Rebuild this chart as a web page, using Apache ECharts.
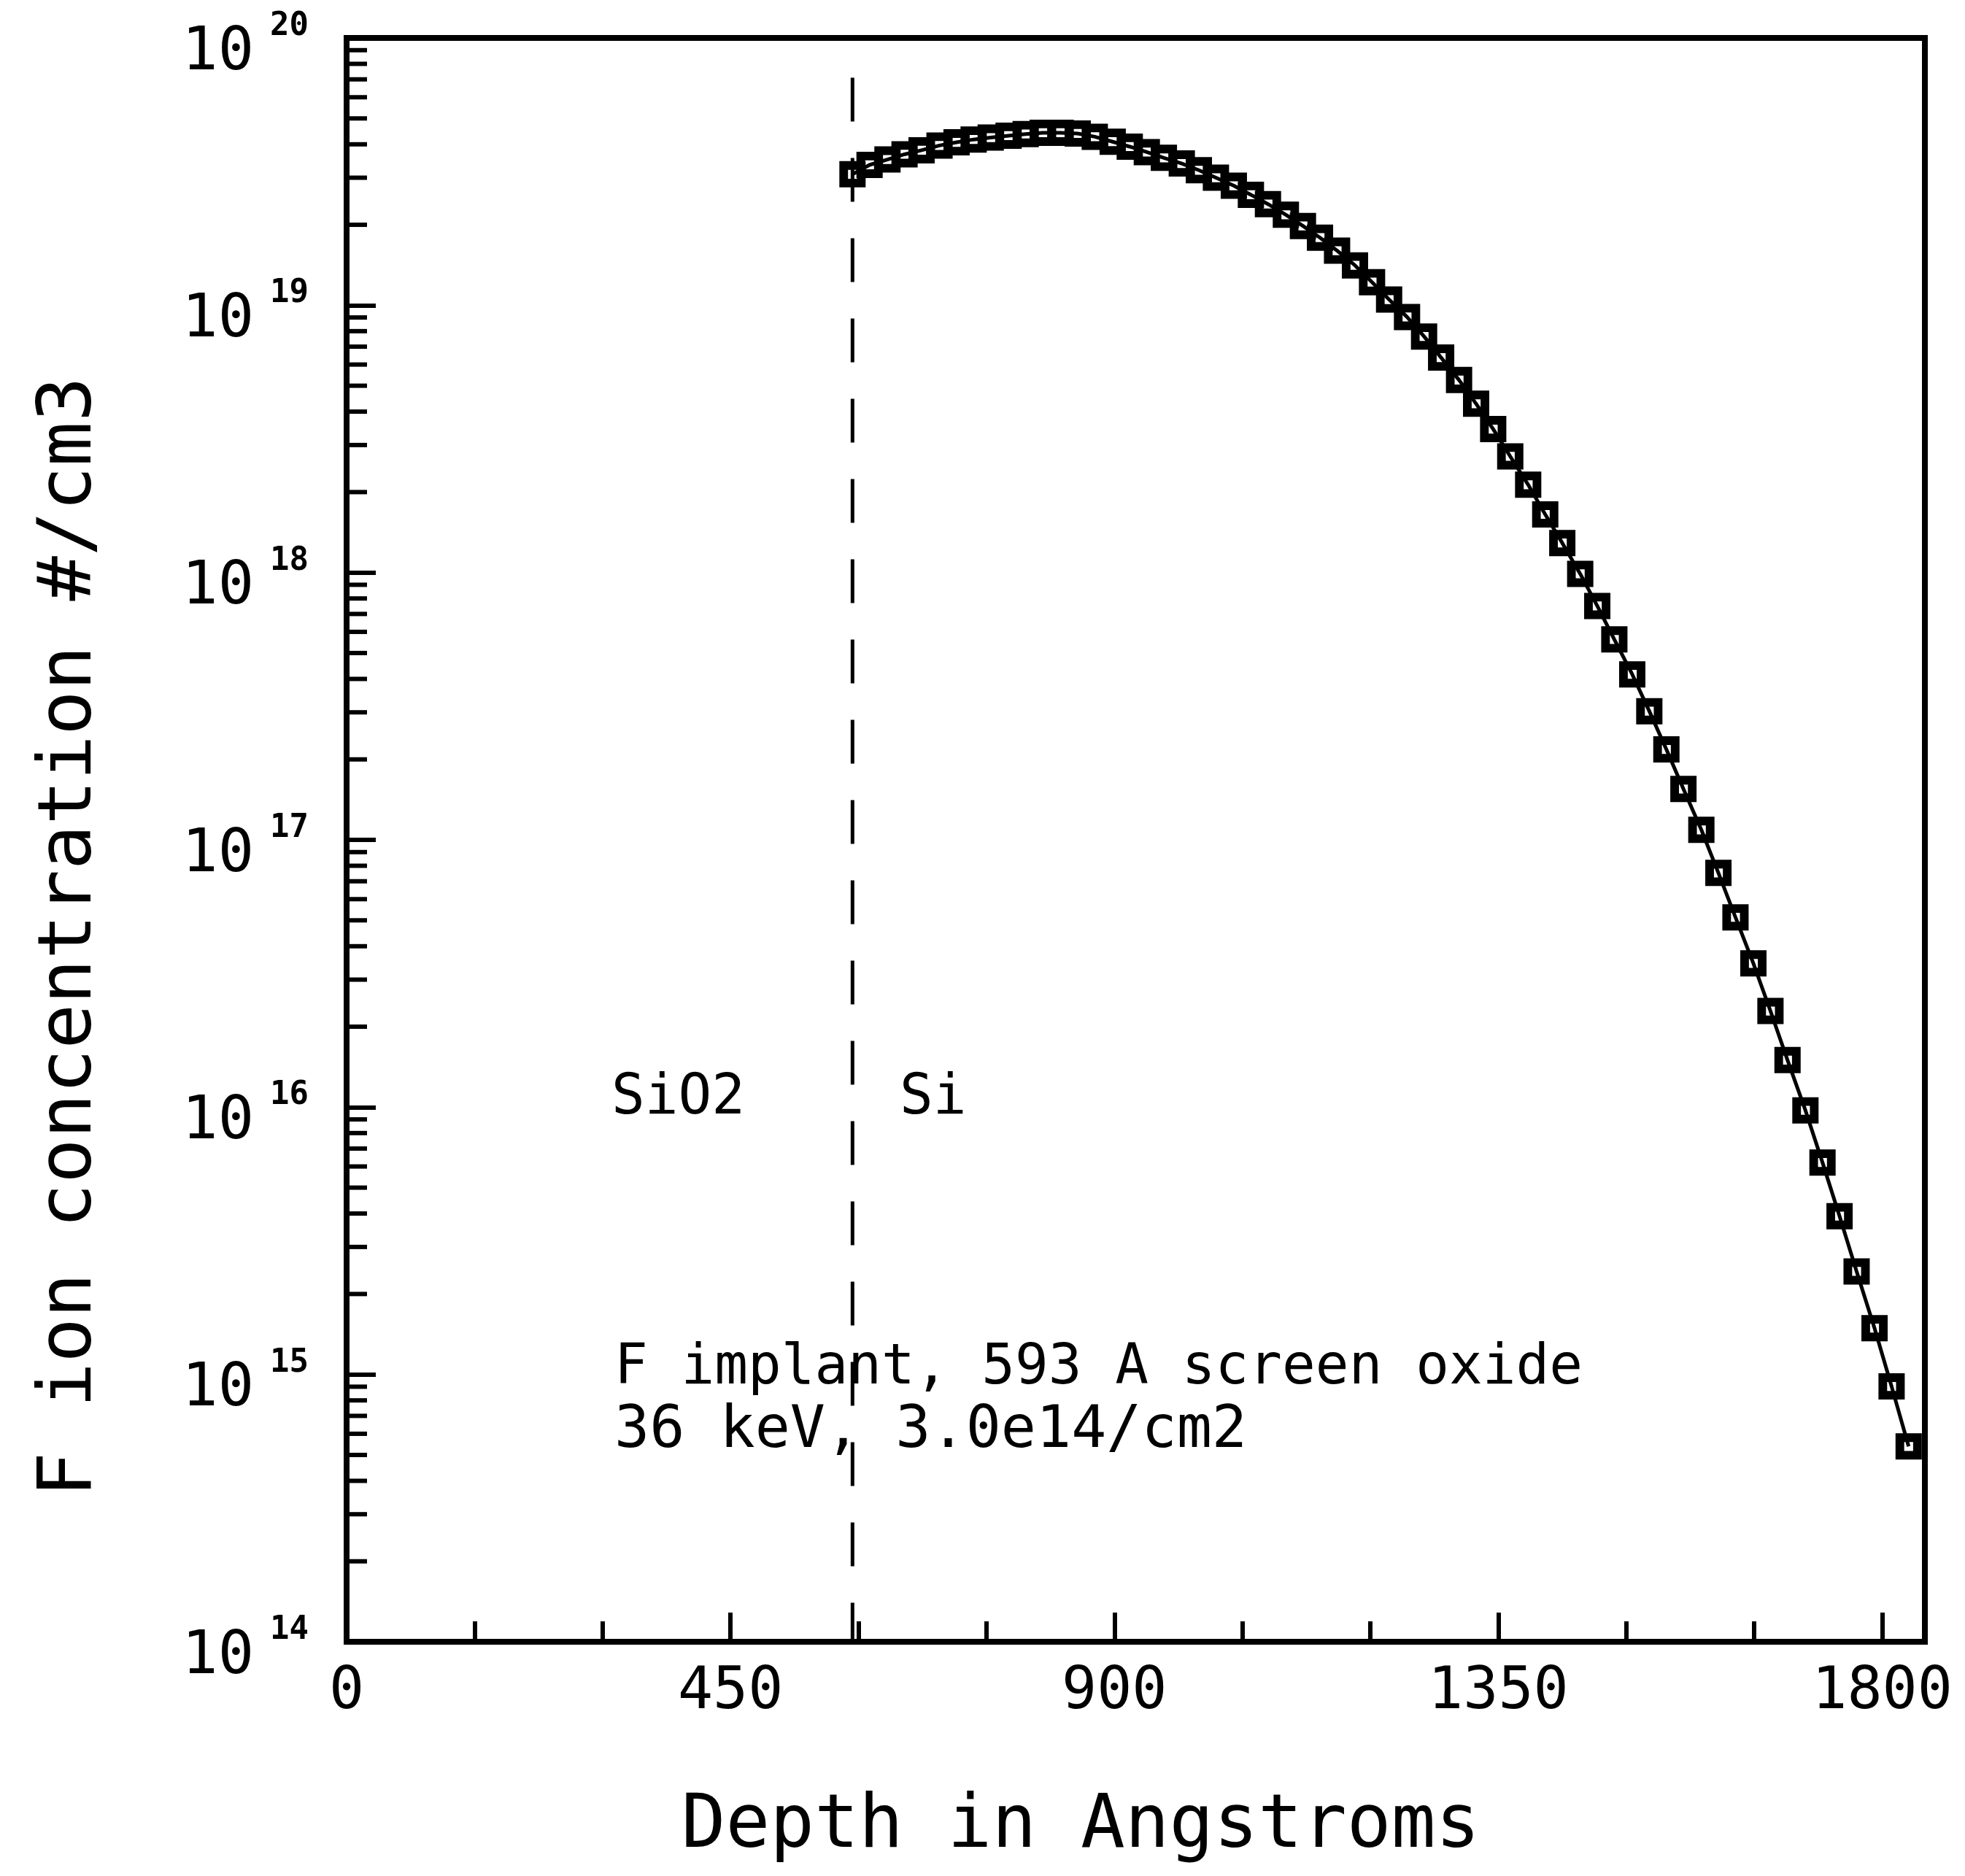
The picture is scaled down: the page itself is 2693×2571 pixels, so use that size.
<!DOCTYPE html>
<html>
<head>
<meta charset="utf-8">
<script src="https://cdn.jsdelivr.net/npm/echarts@6/dist/echarts.min.js"></script>
<style>
  html, body { margin: 0; padding: 0; background: #ffffff; }
  #chart { width: 2693px; height: 2571px; }
</style>
</head>
<body>
<div id="chart"></div>
<script>
// Depth grid of the simulated F profile in silicon (Angstroms)
const depth = [
  593, 613, 634, 654, 674, 695, 715, 735, 755, 776,
  796, 816, 837, 857, 877, 898, 918, 938, 958, 979,
  999, 1019, 1040, 1060, 1080, 1101, 1121, 1141, 1161, 1182,
  1202, 1222, 1243, 1263, 1283, 1304, 1324, 1344, 1364, 1385,
  1405, 1425, 1446, 1466, 1486, 1507, 1527, 1547, 1567, 1588,
  1608, 1628, 1649, 1669, 1689, 1710, 1730, 1750, 1770, 1791,
  1811, 1831
];

// F ion concentration at each depth (#/cm3)
const concentration = [
  3.09e19, 3.35e19, 3.51e19, 3.67e19, 3.80e19, 3.96e19, 4.07e19, 4.17e19, 4.24e19, 4.31e19,
  4.37e19, 4.42e19, 4.42e19, 4.39e19, 4.27e19, 4.09e19, 3.92e19, 3.74e19, 3.56e19, 3.39e19,
  3.20e19, 3.00e19, 2.80e19, 2.59e19, 2.39e19, 2.18e19, 1.98e19, 1.79e19, 1.60e19, 1.41e19,
  1.22e19, 1.05e19, 9.04e18, 7.64e18, 6.37e18, 5.25e18, 4.28e18, 3.44e18, 2.72e18, 2.13e18,
  1.65e18, 1.29e18, 9.89e17, 7.50e17, 5.62e17, 4.16e17, 3.03e17, 2.18e17, 1.55e17, 1.09e17,
  7.52e16, 5.13e16, 3.45e16, 2.29e16, 1.50e16, 9.73e15, 6.21e15, 3.91e15, 2.43e15, 1.49e15,
  9.02e14, 5.38e14
];

// SiO2 / Si interface (screen oxide thickness) and the top of its marker line
const interfaceDepth = 593;
const interfaceLineTop = 7.1e19;

// Axis ranges and tick labels
const xRange = [0, 1850];
const xLabelValues = [0, 450, 900, 1350, 1800];
const yRange = [1e14, 1e20];
const decadeExponents = [14, 15, 16, 17, 18, 19];
const minorMultipliers = [2, 3, 4, 5, 6, 7, 8, 9];

// Annotation texts
const layerLabels = ['SiO2', 'Si'];
const implantNote = ['F implant, 593 A screen oxide', '36 keV, 3.0e14/cm2'];
const xTitle = 'Depth in Angstroms';
const yTitle = 'F ion concentration #/cm3';

const FONT = '"DejaVu Sans Mono", "Liberation Mono", monospace';
const INK = '#000000';

// Square plot marker with a heavy outline and a small open centre
const SQUARE_MARKER = 'path://M0,0H10V10H0Z M3.3,3.3V6.7H6.7V3.3Z';

const profileData = depth.map((d, i) => [d, concentration[i]]);
const minorTickData = [];
decadeExponents.forEach(e => {
  minorMultipliers.forEach(m => minorTickData.push([xRange[0], m * Math.pow(10, e)]));
});

const chart = echarts.init(document.getElementById('chart'), null, { renderer: 'canvas' });

const gridBox = { left: 475, top: 52, width: 2163, height: 2198 };

chart.setOption({
  animation: false,
  backgroundColor: '#ffffff',
  grid: {
    left: gridBox.left, top: gridBox.top, width: gridBox.width, height: gridBox.height,
    show: true, borderColor: INK, borderWidth: 8, backgroundColor: 'transparent'
  },
  xAxis: [
    {
      type: 'value', min: xRange[0], max: xRange[1], interval: 150,
      position: 'bottom',
      axisLine: { show: true, onZero: false, lineStyle: { color: INK, width: 8 } },
      axisTick: { show: true, inside: true, length: 28, lineStyle: { color: INK, width: 6 } },
      splitLine: { show: false },
      axisLabel: {
        show: true, margin: 30,
        color: INK, fontFamily: FONT, fontSize: 80,
        formatter: v => (xLabelValues.indexOf(v) >= 0 ? String(v) : '')
      }
    },
    {
      type: 'value', min: xRange[0], max: xRange[1], interval: 450,
      position: 'bottom',
      axisLine: { show: false, onZero: false },
      axisTick: { show: true, inside: true, length: 40, lineStyle: { color: INK, width: 6 } },
      splitLine: { show: false },
      axisLabel: { show: false }
    }
  ],
  yAxis: {
    type: 'log', logBase: 10, min: yRange[0], max: yRange[1], splitNumber: 6,
    axisLine: { show: true, onZero: false, lineStyle: { color: INK, width: 8 } },
    axisTick: { show: true, inside: true, length: 40, lineStyle: { color: INK, width: 6 } },
    splitLine: { show: false },
    minorTick: { show: false },
    axisLabel: {
      show: true, margin: 52,
      formatter: v => '{b|10}{s|' + Math.round(Math.log10(v)) + '}',
      rich: {
        b: { fontFamily: FONT, fontSize: 82, color: INK, padding: [43, 0, 0, 0] },
        s: { fontFamily: FONT, fontSize: 44, fontWeight: 'bold', color: INK, padding: [0, 0, 31, 22] }
      }
    }
  },
  series: [
    {
      // minor ticks at 2..9 x 10^n on the log concentration axis
      type: 'custom',
      xAxisIndex: 0,
      data: minorTickData,
      clip: false,
      silent: true,
      z: 4,
      renderItem: (params, api) => {
        const p = api.coord([api.value(0), api.value(1)]);
        return {
          type: 'line',
          shape: { x1: p[0], y1: p[1], x2: p[0] + 28, y2: p[1] },
          style: { stroke: INK, lineWidth: 6 }
        };
      }
    },
    {
      // SiO2 / Si interface
      type: 'line',
      xAxisIndex: 0,
      data: [[interfaceDepth, interfaceLineTop], [interfaceDepth, yRange[0]]],
      symbol: 'none',
      silent: true,
      z: 3,
      lineStyle: { color: INK, width: 5, type: [60, 50] }
    },
    {
      name: 'F profile',
      type: 'line',
      xAxisIndex: 0,
      data: profileData,
      symbol: SQUARE_MARKER,
      symbolSize: 36,
      showAllSymbol: true,
      z: 5,
      lineStyle: { color: INK, width: 5 },
      itemStyle: { color: INK, borderWidth: 0 }
    }
  ],
  graphic: [
    {
      type: 'text', x: 97, y: 1284, rotation: Math.PI / 2,
      style: { text: yTitle, fontFamily: FONT, fontSize: 102, fill: INK, align: 'center', verticalAlign: 'middle' }
    },
    {
      type: 'text', x: 1481, y: 2505,
      style: { text: xTitle, fontFamily: FONT, fontSize: 101, fill: INK, align: 'center', verticalAlign: 'middle' }
    },
    {
      type: 'text', x: 838, y: 1506,
      style: { text: layerLabels[0], fontFamily: FONT, fontSize: 76, fill: INK, align: 'left', verticalAlign: 'middle' }
    },
    {
      type: 'text', x: 1233, y: 1506,
      style: { text: layerLabels[1], fontFamily: FONT, fontSize: 76, fill: INK, align: 'left', verticalAlign: 'middle' }
    },
    {
      type: 'text', x: 842, y: 1876,
      style: { text: implantNote[0], fontFamily: FONT, fontSize: 76, fill: INK, align: 'left', verticalAlign: 'middle' }
    },
    {
      type: 'text', x: 842, y: 1962,
      style: { text: implantNote[1], fontFamily: FONT, fontSize: 80, fill: INK, align: 'left', verticalAlign: 'middle' }
    }
  ]
});
</script>
</body>
</html>
